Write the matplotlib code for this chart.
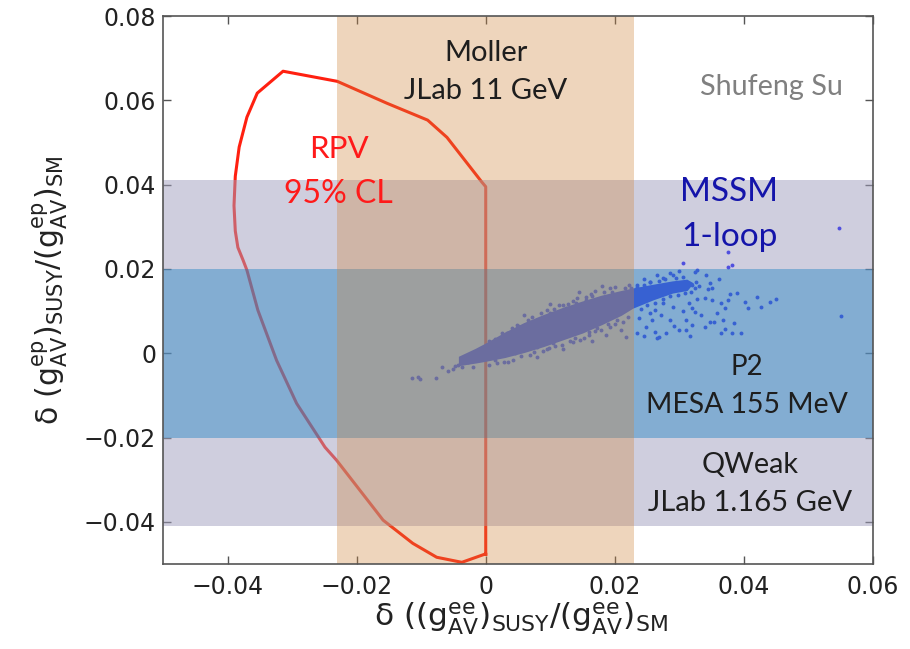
import matplotlib
matplotlib.use("Agg")
import matplotlib.pyplot as plt

# ---------------- data ----------------
x_ticks = [-0.04, -0.02, 0.0, 0.02, 0.04, 0.06]
x_ticklabels = ["\u22120.04", "\u22120.02", "0", "0.02", "0.04", "0.06"]
y_ticks = [-0.04, -0.02, 0.0, 0.02, 0.04, 0.06, 0.08]
y_ticklabels = ["\u22120.04", "\u22120.02", "0", "0.02", "0.04", "0.06", "0.08"]

moller_x = (-0.023, 0.023)     # Moller JLab 11 GeV (vertical band)
qweak_y = (-0.041, 0.041)      # QWeak JLab 1.165 GeV
p2_y = (-0.020, 0.020)         # P2 MESA 155 MeV

# RPV 95% CL contour
rpv_x = [0.0, 0.0, -0.0006, -0.0060, -0.0090, -0.0153, -0.0230, -0.0314,
         -0.0354, -0.0370, -0.0382, -0.0388, -0.0390, -0.0388, -0.0384, -0.0376,
         -0.0370, -0.0353, -0.0324, -0.0293, -0.0249, -0.0231, -0.0159,
         -0.0113, -0.0076, -0.0037, -0.0002, 0.0]
rpv_y = [-0.0477, 0.0395, 0.0406, 0.0512, 0.0553, 0.0593, 0.0645, 0.0669,
         0.0617, 0.0560, 0.0489, 0.0420, 0.0350, 0.0290, 0.0251, 0.0221,
         0.0197, 0.0102, -0.0017, -0.0119, -0.0223, -0.0254, -0.0396,
         -0.0451, -0.0484, -0.0496, -0.0477, -0.0477]

# MSSM 1-loop: outline of the dense core of points
core_x = [-0.0040, -0.0015, 0.0000, 0.0030, 0.0060, 0.0090, 0.0120, 0.0150,
          0.0180, 0.0210, 0.0228, 0.0260, 0.0290, 0.0312, 0.0320,
          0.0312, 0.0290, 0.0260, 0.0228, 0.0210, 0.0180, 0.0150, 0.0120,
          0.0090, 0.0060, 0.0030, 0.0000, -0.0015, -0.0040]
core_y = [-0.0010, 0.0008, 0.0020, 0.0046, 0.0069, 0.0088, 0.0105, 0.0120,
          0.0134, 0.0145, 0.0151, 0.0160, 0.0168, 0.0172, 0.0165,
          0.0150, 0.0144, 0.0128, 0.0108, 0.0091, 0.0069, 0.0049, 0.0033,
          0.0017, 0.0003, -0.0009, -0.0018, -0.0022, -0.0028]

# MSSM 1-loop: individual scattered points
mssm_x = [-0.0115, -0.0105, -0.0102, -0.0077, -0.0068, -0.0059, -0.0051, -0.0043,
          -0.0036, -0.0028, -0.0048, -0.0025,
          0.0014, 0.0034, 0.0033, 0.0068, 0.0079, 0.0104, 0.0115, 0.0125, 0.0135,
          0.0088, 0.0156, 0.0195, 0.0207, 0.0218, 0.0135, 0.0187, 0.0218, 0.0146,
          0.0203, 0.0165, 0.0175, 0.0225, 0.0060, 0.0020, 0.0045, 0.0095, 0.0172,
          0.0160, 0.0190, 0.0120, 0.0080, 0.0055, 0.0030, 0.0100, 0.0140, 0.0050,
          # fuzzy upper edge of the core
          0.0005, 0.0015, 0.0025, 0.0040, 0.0048, 0.0065, 0.0072, 0.0085, 0.0095,
          0.0105, 0.0113, 0.0128, 0.0135, 0.0142, 0.0155, 0.0163, 0.0170, 0.0183,
          0.0192, 0.0200, 0.0215, 0.0222, 0.0100, 0.0145, 0.0060, 0.0180,
          # fuzzy lower edge of the core
          -0.0020, 0.0005, 0.0018, 0.0028, 0.0042, 0.0055, 0.0068, 0.0075, 0.0088,
          0.0098, 0.0108, 0.0118, 0.0130, 0.0138, 0.0152, 0.0160, 0.0170, 0.0178,
          0.0192, 0.0200, 0.0212, 0.0220, 0.0120, 0.0165, 0.0080, 0.0210,
          # near the core, outside the Moller band
          0.0235, 0.0245, 0.0255, 0.0268, 0.0278, 0.0295, 0.0305, 0.0240, 0.0250,
          0.0262, 0.0275, 0.0285, 0.0298, 0.0308, 0.0318, 0.0325, 0.0330,
          0.0258, 0.0292, 0.0272, 0.0305, 0.0245, 0.0290, 0.0315, 0.0262,
          # spread
          0.0238, 0.0249, 0.0262, 0.0274, 0.0285, 0.0266, 0.0280, 0.0300, 0.0311,
          0.0238, 0.0254, 0.0234, 0.0269, 0.0311, 0.0320, 0.0347,
          0.0234, 0.0254, 0.0274, 0.0290, 0.0285, 0.0324, 0.0327, 0.0342, 0.0362,
          0.0347, 0.0350, 0.0319, 0.0324, 0.0344, 0.0245, 0.0265, 0.0300,
          0.0378, 0.0390, 0.0421, 0.0440, 0.0450, 0.0401, 0.0406, 0.0426, 0.0375,
          0.0365, 0.0370, 0.0351, 0.0339, 0.0328, 0.0320, 0.0324, 0.0334, 0.0354,
          0.0359, 0.0367, 0.0385, 0.0370, 0.0365, 0.0396, 0.0339, 0.0317, 0.0382,
          0.0305, 0.0375, 0.0375, 0.0382, 0.0548, 0.0550]
mssm_y = [-0.0059, -0.0057, -0.0062, -0.0059, -0.0033, -0.0042, -0.0038, -0.0028,
          -0.0033, -0.0021, -0.0031, -0.0015,
          -0.0017, -0.0021, 0.0047, 0.0071, 0.0014, 0.0024, 0.0097, 0.0107, 0.0026,
          0.0062, 0.0126, 0.0145, 0.0133, 0.0142, 0.0085, 0.0043, 0.0038, 0.0031,
          0.0078, 0.0135, 0.0118, 0.0155, 0.0015, 0.0030, 0.0000, 0.0010, 0.0060,
          0.0050, 0.0070, 0.0115, 0.0080, 0.0060, 0.0035, 0.0095, 0.0120, 0.0065,
          0.0029, 0.0033, 0.0048, 0.0059, 0.0066, 0.0080, 0.0087, 0.0095, 0.0103,
          0.0105, 0.0115, 0.0117, 0.0125, 0.0130, 0.0133, 0.0140, 0.0147, 0.0145,
          0.0154, 0.0158, 0.0155, 0.0162, 0.0117, 0.0145, 0.0090, 0.0160,
          -0.0032, -0.0028, -0.0024, -0.0020, -0.0015, -0.0007, -0.0005, 0.0003, 0.0005,
          0.0013, 0.0017, 0.0020, 0.0030, 0.0035, 0.0035, 0.0043, 0.0053, 0.0055,
          0.0063, 0.0070, 0.0075, 0.0087, 0.0010, 0.0030, -0.0010, 0.0055,
          0.0158, 0.0163, 0.0170, 0.0172, 0.0176, 0.0178, 0.0180, 0.0105, 0.0115,
          0.0118, 0.0128, 0.0135, 0.0138, 0.0142, 0.0145, 0.0170, 0.0160,
          0.0080, 0.0065, 0.0090, 0.0100, 0.0040, 0.0110, 0.0120, 0.0050,
          0.0083, 0.0062, 0.0102, 0.0119, 0.0078, 0.0036, 0.0047, 0.0055, 0.0078,
          0.0130, 0.0095, 0.0047, 0.0038, 0.0055, 0.0068, 0.0074,
          0.0161, 0.0168, 0.0178, 0.0185, 0.0190, 0.0192, 0.0197, 0.0185, 0.0175,
          0.0166, 0.0154, 0.0161, 0.0154, 0.0152, 0.0175, 0.0185, 0.0195,
          0.0140, 0.0142, 0.0133, 0.0121, 0.0128, 0.0121, 0.0107, 0.0110, 0.0126,
          0.0119, 0.0107, 0.0126, 0.0130, 0.0128, 0.0107, 0.0097, 0.0090, 0.0074,
          0.0095, 0.0078, 0.0071, 0.0057, 0.0047, 0.0047, 0.0062, 0.0040, 0.0047,
          0.0213, 0.0240, 0.0204, 0.0209, 0.0297, 0.0088]

# ---------------- figure ----------------
plt.rcParams["font.family"] = ["DejaVu Sans"]
plt.rcParams["mathtext.fontset"] = "dejavusans"
plt.rcParams["mathtext.default"] = "regular"

fig = plt.figure(figsize=(9.10, 6.49), dpi=100)
ax = fig.add_axes([163/910, 1-564/649, (873-163)/910, (564-16)/649])
ax.set_xlim(-0.05, 0.06)
ax.set_ylim(-0.05, 0.08)

red = "#FF2010"
pt_col = "#0000FF"

# data (under the translucent bands)
ax.plot(rpv_x, rpv_y, color=red, lw=2.2, zorder=1, solid_joinstyle="round")
ax.fill(core_x, core_y, color=pt_col, lw=1.5, ec=pt_col, zorder=1)
ax.scatter(mssm_x, mssm_y, s=8, color=pt_col, lw=0, zorder=1)

# translucent bands on top
ax.axhspan(qweak_y[0], qweak_y[1], color="#A19FBF", alpha=0.5, lw=0, zorder=2)
ax.axhspan(p2_y[0], p2_y[1], color="#127DC1", alpha=0.4, lw=0, zorder=3)
ax.axvspan(moller_x[0], moller_x[1], color="#D0863D", alpha=0.34, lw=0, zorder=4)

# ticks
ax.set_xticks(x_ticks)
ax.set_xticklabels(x_ticklabels)
ax.set_yticks(y_ticks)
ax.set_yticklabels(y_ticklabels)
ax.tick_params(direction="in", length=6, width=1.0, color="#555555",
               top=True, right=True, labelsize=17, labelcolor="#222222")
ax.tick_params(axis="x", pad=8)
ax.tick_params(axis="y", pad=5)
for s in ax.spines.values():
    s.set_color("#555555")
    s.set_linewidth(1.2)
    s.set_zorder(6)

# axis labels
ax.set_xlabel(r"$\delta\ ((g^{ee}_{AV})_{SUSY}/(g^{ee}_{AV})_{SM}$",
              fontsize=22.5, color="#222222")
ax.xaxis.set_label_coords(0.504, -0.067)
ax.set_ylabel(r"$\delta\ (g^{ep}_{AV})_{SUSY}/(g^{ep}_{AV})_{SM}$",
              fontsize=21.5, color="#222222")
ax.yaxis.set_label_coords(-0.131, 0.5)

# annotations
tf = "Lato"
dark = "#1E1E1E"
ax.text(0.0, 0.0693, "Moller", fontsize=21, family=tf, color=dark, ha="center", va="baseline", zorder=10)
ax.text(0.0, 0.0603, "JLab 11 GeV", fontsize=21, family=tf, color=dark, ha="center", va="baseline", zorder=10)
ax.text(0.0553, 0.0612, "Shufeng Su", fontsize=20.7, family=tf, color="#808080", ha="right", va="baseline", zorder=10)
ax.text(-0.0228, 0.0463, "RPV", fontsize=22.5, family=tf, color="#FF1A1A", ha="center", va="baseline", zorder=10)
ax.text(-0.0228, 0.0356, "95% CL", fontsize=23, family=tf, color="#FF1A1A", ha="center", va="baseline", zorder=10)
ax.text(0.0377, 0.0361, "MSSM", fontsize=24, family=tf, color="#1414AA", ha="center", va="baseline", zorder=10)
ax.text(0.0377, 0.0254, "1-loop", fontsize=24, family=tf, color="#1414AA", ha="center", va="baseline", zorder=10)
ax.text(0.0404, -0.0052, "P2", fontsize=20, family=tf, color=dark, ha="center", va="baseline", zorder=10)
ax.text(0.0404, -0.0142, "MESA 155 MeV", fontsize=20.4, family=tf, color=dark, ha="center", va="baseline", zorder=10)
ax.text(0.0409, -0.0285, "QWeak", fontsize=20.7, family=tf, color=dark, ha="center", va="baseline", zorder=10)
ax.text(0.0409, -0.0375, "JLab 1.165 GeV", fontsize=21, family=tf, color=dark, ha="center", va="baseline", zorder=10)

fig.savefig("out.png", dpi=100)
